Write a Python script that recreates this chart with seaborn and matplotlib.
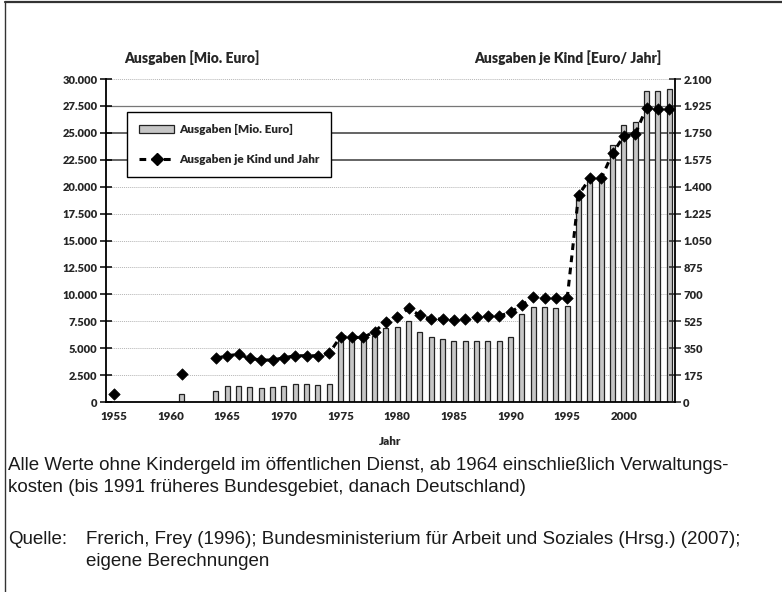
import matplotlib
matplotlib.use("Agg")
import matplotlib.pyplot as plt
import matplotlib.ticker as mticker
from matplotlib.lines import Line2D
from matplotlib.patches import Patch
import numpy as np
import pandas as pd
import seaborn as sns

nan = np.nan

# Jahre 1955-2004
years = list(range(1955, 2005))

# Ausgaben [Mio. Euro] (linke Achse)
ausgaben = [
    nan, nan, nan, nan, nan, nan, 700, nan, nan, 1050,      # 1955-1964
    1490, 1490, 1370, 1300, 1370, 1490, 1670, 1670, 1620, 1670,  # 1965-1974
    6070, 6070, 5950, 6130, 6850, 6940, 7520, 6530, 6010, 5820,  # 1975-1984
    5670, 5670, 5640, 5670, 5670, 6010, 8170, 8790, 8790, 8700,  # 1985-1994
    8920, 19440, 20930, 20930, 23870, 25700, 26040, 28910, 28910, 29070,  # 1995-2004
]

# Ausgaben je Kind und Jahr [Euro] (rechte Achse)
je_kind = [
    55, nan, nan, nan, nan, nan, 180, nan, nan, 284,
    301, 310, 284, 273, 273, 288, 301, 301, 301, 317,
    425, 420, 420, 457, 522, 551, 609, 564, 538, 540,
    533, 540, 555, 559, 559, 583, 631, 680, 674, 674,
    674, 1346, 1454, 1454, 1617, 1729, 1742, 1913, 1908, 1905,
]

left_ticks = list(range(0, 30001, 2500))
right_ticks = list(range(0, 2101, 175))
year_labels = [1955, 1960, 1965, 1970, 1975, 1980, 1985, 1990, 1995, 2000]

df = pd.DataFrame({"Jahr": years, "Ausgaben": ausgaben, "JeKind": je_kind})
df_line = df[df["Jahr"] >= 1964]

sns.set_style("white")
plt.rcParams["font.family"] = ["Lato", "DejaVu Sans"]

fig = plt.figure(figsize=(7.82, 5.92), dpi=100)
ax = fig.add_axes([0.1355, 0.3209, 0.7275, 0.5456])

# Gitterlinien
for v in left_ticks[1:]:
    if v in (22500, 25000):
        ax.axhline(v, color="#3a3a3a", lw=1.1, zorder=0)
    elif v == 27500:
        ax.axhline(v, color="#777777", lw=0.9, zorder=0)
    else:
        ax.axhline(v, color="#b5b5b5", lw=0.7, ls=(0, (1, 1)), zorder=0)

sns.barplot(data=df.dropna(subset=["Ausgaben"]), x="Jahr", y="Ausgaben",
            native_scale=True, width=0.45, color="#c6c6c6",
            edgecolor="#222222", linewidth=0.9, saturation=1, ax=ax, zorder=2)

ax.set_xlim(1954.3, 2004.5)
ax.set_ylim(0, 30000)
ax.set_yticks(left_ticks)
ax.yaxis.set_major_formatter(mticker.FuncFormatter(lambda v, p: f"{int(v):,}".replace(",", ".")))
ax.set_xticks(year_labels)
ax.set_xticks(years, minor=True)
ax.set_xlabel("Jahr", fontsize=8.5, fontweight="heavy", labelpad=10)
ax.set_ylabel("")
for s in ["top", "right"]:
    ax.spines[s].set_visible(False)
for s in ["left", "bottom"]:
    ax.spines[s].set_color("black")
    ax.spines[s].set_linewidth(1.3)
ax.tick_params(axis="both", which="both", direction="inout", color="black", width=1.1)
ax.tick_params(axis="x", which="major", length=7, labelsize=8.3, pad=3)
ax.tick_params(axis="x", which="minor", length=7)
ax.tick_params(axis="y", length=8, labelsize=8, pad=2)
for lab in ax.get_xticklabels() + ax.get_yticklabels():
    lab.set_fontweight("heavy")

ax2 = ax.twinx()
sns.lineplot(data=df_line, x="Jahr", y="JeKind", color="black", lw=2.2,
             ls=(0, (2.2, 1.8)), ax=ax2, zorder=3)
sns.scatterplot(data=df, x="Jahr", y="JeKind", marker="D", s=34, color="black",
                edgecolor="black", ax=ax2, zorder=4)
ax2.set_ylim(0, 2100)
ax2.set_yticks(right_ticks)
ax2.yaxis.set_major_formatter(mticker.FuncFormatter(lambda v, p: f"{int(v):,}".replace(",", ".")))
ax2.set_ylabel("")
ax2.set_xlim(1954.3, 2004.5)
for s in ["top", "left", "bottom"]:
    ax2.spines[s].set_visible(False)
ax2.spines["right"].set_color("black")
ax2.spines["right"].set_linewidth(1.3)
ax2.tick_params(axis="y", direction="inout", length=8, width=1.1, labelsize=8, pad=2)
for lab in ax2.get_yticklabels():
    lab.set_fontweight("heavy")

fig.text(0.245, 0.903, "Ausgaben [Mio. Euro]", ha="center", va="center",
         fontsize=10, fontweight="heavy")
fig.text(0.726, 0.903, "Ausgaben je Kind [Euro/ Jahr]", ha="center", va="center",
         fontsize=10, fontweight="heavy")

handles = [
    Patch(facecolor="#c6c6c6", edgecolor="#222222", lw=0.9),
    Line2D([], [], color="black", lw=2.2, ls=(0, (2.2, 1.8)), marker="D", markersize=5.8),
]
leg = ax2.legend(handles, ["Ausgaben [Mio. Euro]", "Ausgaben je Kind und Jahr"],
                 loc="upper left", bbox_to_anchor=(0.037, 0.897), frameon=True,
                 fancybox=False, framealpha=1, edgecolor="black",
                 prop={"weight": "heavy", "size": 8.5}, labelspacing=1.6,
                 handlelength=3.0, handletextpad=0.4, borderpad=1.0, borderaxespad=0)
leg.get_frame().set_linewidth(1.0)

# Anmerkungen
cap = {"family": ["Liberation Sans", "DejaVu Sans"], "fontsize": 13.5, "color": "#1a1a1a"}
fig.text(8 / 782, 1 - 466 / 592,
         "Alle Werte ohne Kindergeld im öffentlichen Dienst, ab 1964 einschließlich Verwaltungs-",
         va="center", **cap)
fig.text(8 / 782, 1 - 488 / 592,
         "kosten (bis 1991 früheres Bundesgebiet, danach Deutschland)", va="center", **cap)
fig.text(8 / 782, 1 - 539 / 592, "Quelle:", va="center", **cap)
fig.text(86 / 782, 1 - 539 / 592,
         "Frerich, Frey (1996); Bundesministerium für Arbeit und Soziales (Hrsg.) (2007);",
         va="center", **cap)
fig.text(86 / 782, 1 - 561 / 592, "eigene Berechnungen", va="center", **cap)

# Rahmen
fig.add_artist(Line2D([5 / 782, 5 / 782], [0, 1 - 2 / 592], color="#333333", lw=1.0))
fig.add_artist(Line2D([5 / 782, 1], [1 - 2 / 592, 1 - 2 / 592], color="#333333", lw=1.6))

fig.savefig("out.png", dpi=100)
